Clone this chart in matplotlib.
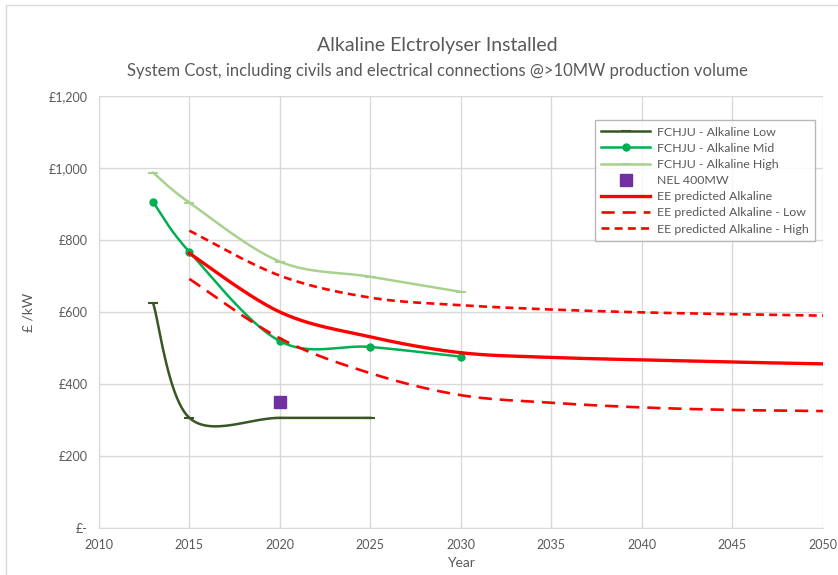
import numpy as np
import matplotlib
matplotlib.use("Agg")
import matplotlib.pyplot as plt
from matplotlib.ticker import FuncFormatter, MultipleLocator
from matplotlib.patches import Rectangle

plt.rcParams['font.family'] = ['Lato', 'DejaVu Sans']

# ---- data (£/kW) ----
low_years = [2013, 2015, 2020, 2025]
low_cost = [624, 306, 306, 306]

mid_years = [2013, 2015, 2020, 2025, 2030]
mid_cost = [905, 767, 519, 503, 476]

high_years = [2013, 2015, 2020, 2025, 2030]
high_cost = [987, 904, 740, 698, 656]

nel_year = [2020]
nel_cost = [349]

ee_years = [2015, 2020, 2025, 2030, 2035, 2040, 2045, 2050]
ee_cost = [763, 600, 531, 487, 474, 467, 461, 456]
ee_low_cost = [692, 527, 430, 369, 348, 335, 328, 325]
ee_high_cost = [826, 701, 640, 619, 607, 599, 594, 590]

TXT = '#595959'
GRID = '#d9d9d9'
NSEG = 40


def smooth(xs, ys, n=NSEG):
    # spreadsheet-style smoothed line: cubic bezier through every point
    p = np.column_stack([xs, ys]).astype(float)
    pts = [p[0]]
    for i in range(len(p) - 1):
        p0 = p[i - 1] if i > 0 else p[i]
        p3 = p[i + 2] if i + 2 < len(p) else p[i + 1]
        c1 = p[i] + (p[i + 1] - p0) / 6
        c2 = p[i + 1] - (p3 - p[i]) / 6
        t = np.linspace(0, 1, n + 1)[1:, None]
        seg = ((1 - t) ** 3 * p[i] + 3 * (1 - t) ** 2 * t * c1
               + 3 * (1 - t) * t ** 2 * c2 + t ** 3 * p[i + 1])
        pts.extend(seg)
    pts = np.array(pts)
    return pts[:, 0], pts[:, 1], list(range(0, len(pts), n))


fig = plt.figure(figsize=(8.38, 5.75), dpi=100)
ax = fig.add_axes([0.118, 0.0817, 0.864, 0.7513])

x, y, mk = smooth(low_years, low_cost)
ax.plot(x, y, color='#375623', lw=1.8, marker='_', ms=7, mew=1.5,
        markevery=mk, label='FCHJU - Alkaline Low', zorder=3)
x, y, mk = smooth(mid_years, mid_cost)
ax.plot(x, y, color='#00b050', lw=1.8, marker='o', ms=5,
        markevery=mk, label='FCHJU - Alkaline Mid', zorder=3)
x, y, mk = smooth(high_years, high_cost)
ax.plot(x, y, color='#a9d18e', lw=1.8, marker='_', ms=7, mew=1.5,
        markevery=mk, label='FCHJU - Alkaline High', zorder=3)
ax.plot(nel_year, nel_cost, ls='none', marker='s', ms=9, color='#7030a0',
        label='NEL 400MW', zorder=4)
x, y, _ = smooth(ee_years, ee_cost)
ax.plot(x, y, color='#ff0000', lw=2.4, label='EE predicted Alkaline', zorder=3)
x, y, _ = smooth(ee_years, ee_low_cost)
ax.plot(x, y, color='#ff0000', lw=1.9, dashes=(5, 3),
        label='EE predicted Alkaline - Low', zorder=3)
x, y, _ = smooth(ee_years, ee_high_cost)
ax.plot(x, y, color='#ff0000', lw=1.9, dashes=(3, 2),
        label='EE predicted Alkaline - High', zorder=3)

ax.set_xlim(2010, 2050)
ax.set_ylim(0, 1200)
ax.xaxis.set_major_locator(MultipleLocator(5))
ax.yaxis.set_major_locator(MultipleLocator(200))
ax.yaxis.set_major_formatter(FuncFormatter(
    lambda v, _: '£-' if v == 0 else '£{:,.0f}'.format(v)))
ax.grid(True, color=GRID, lw=1)
ax.set_axisbelow(True)
for s in ['top', 'right']:
    ax.spines[s].set_visible(False)
for s in ['left', 'bottom']:
    ax.spines[s].set_color(GRID)
ax.tick_params(length=0, colors=TXT, labelsize=9, pad=8)

ax.set_xlabel('Year', color=TXT, fontsize=10, labelpad=4)
ax.set_ylabel('£ /kW', color=TXT, fontsize=10, labelpad=10)

fig.text(0.522, 0.911, 'Alkaline Elctrolyser Installed', ha='center',
         color=TXT, fontsize=14)
fig.text(0.522, 0.867,
         'System Cost, including civils and electrical connections @>10MW production volume',
         ha='center', color=TXT, fontsize=12)

leg = ax.legend(loc='upper right', bbox_to_anchor=(0.997, 0.958), fontsize=8.9,
                frameon=True, fancybox=False, edgecolor='#a6a6a6',
                handlelength=4, labelspacing=0.42, borderpad=0.5,
                handletextpad=0.5)
leg.get_frame().set_linewidth(1)
for t in leg.get_texts():
    t.set_color(TXT)

fig.patches.append(Rectangle((6 / 838, -0.01), 1.0, 1 - 5 / 575 + 0.01,
                             transform=fig.transFigure, fill=False,
                             edgecolor=GRID, lw=1))

fig.savefig('out.png', dpi=100)
